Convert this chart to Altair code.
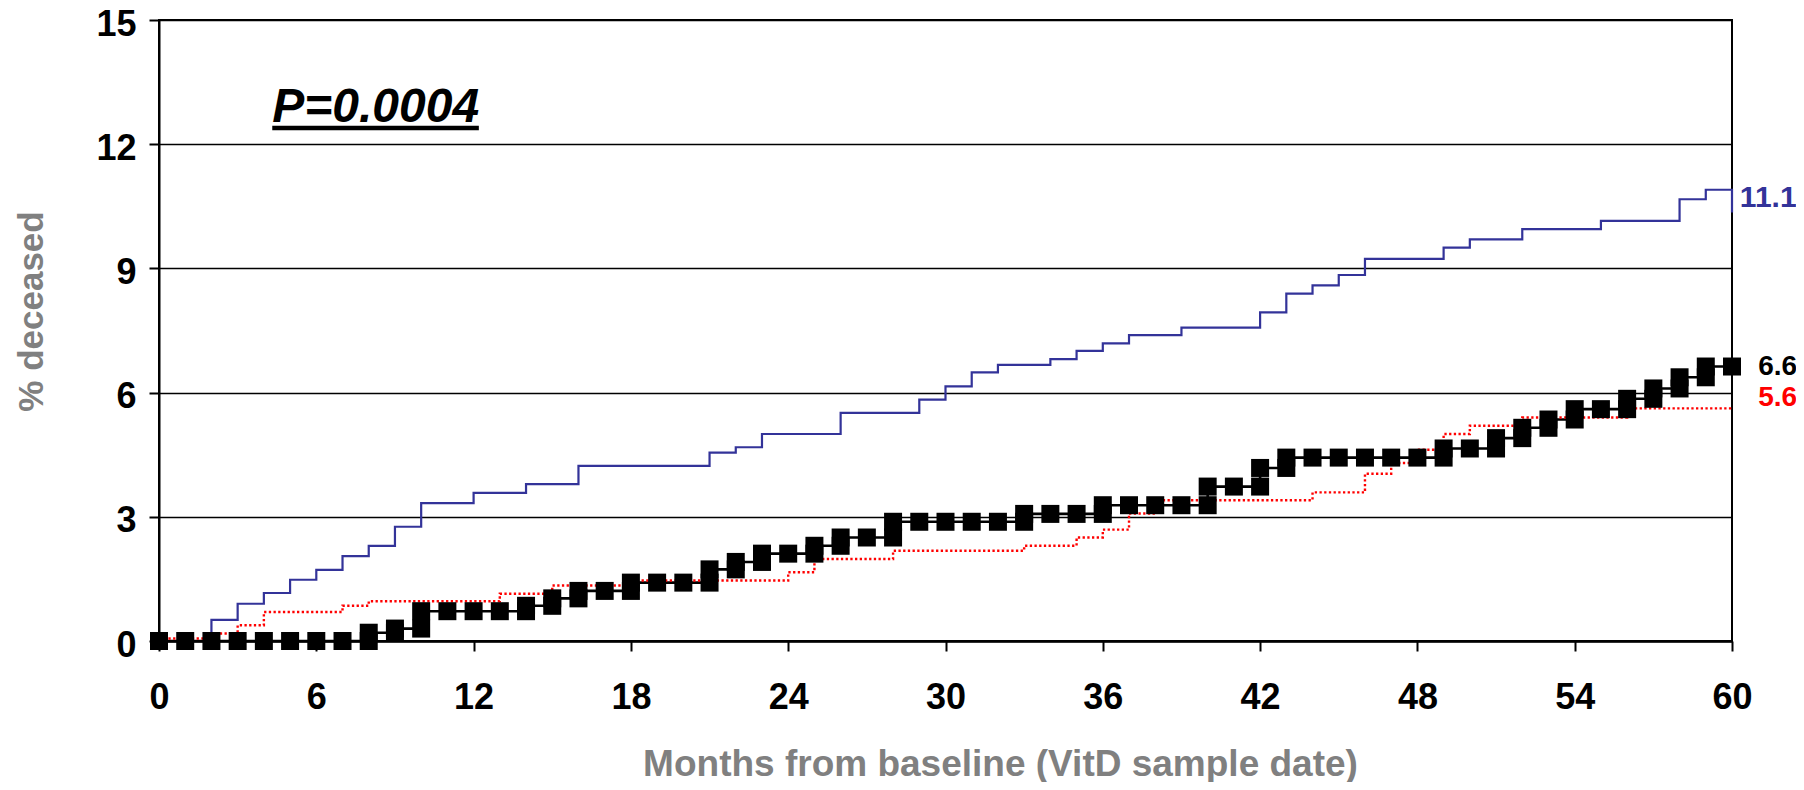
import altair as alt
import pandas as pd

FONT = "Liberation Sans"

# ---- data ----
blue_t = [0, 2, 3, 4, 5, 6, 7, 8, 9, 10, 12, 14, 16, 21, 22, 23, 26, 29, 30, 31, 32,
          34, 35, 36, 37, 39, 42, 43, 44, 45, 46, 49, 50, 52, 55, 58, 59, 60]
blue_v = [0, 0.51, 0.90, 1.16, 1.48, 1.72, 2.05, 2.30, 2.76, 3.33, 3.58, 3.79, 4.23,
          4.55, 4.68, 5.00, 5.51, 5.83, 6.15, 6.49, 6.67, 6.81, 7.01, 7.19, 7.39, 7.57,
          7.94, 8.39, 8.59, 8.84, 9.23, 9.50, 9.70, 9.95, 10.15, 10.67, 10.90, 10.35]

red_t = [0, 2, 3, 4, 7, 8, 13, 15, 18, 24, 25, 28, 33, 35, 36, 37, 38, 44, 46, 47,
         48, 49, 50, 52, 56, 60]
red_v = [0.06, 0.18, 0.38, 0.70, 0.85, 0.96, 1.14, 1.34, 1.46, 1.66, 1.98, 2.18, 2.30,
         2.50, 2.69, 3.08, 3.40, 3.59, 4.04, 4.30, 4.62, 5.00, 5.20, 5.40, 5.62, 5.62]

black_m = list(range(0, 61))
black_v = [0, 0, 0, 0, 0, 0, 0, 0, 0.20, 0.30,
           0.72, 0.72, 0.72, 0.72, 0.85, 1.03, 1.21, 1.21, 1.41, 1.41,
           1.41, 1.73, 1.91, 2.11, 2.11, 2.30, 2.50, 2.50, 2.88, 2.88,
           2.88, 2.88, 2.88, 3.07, 3.07, 3.07, 3.28, 3.28, 3.28, 3.28,
           3.73, 3.73, 4.18, 4.43, 4.43, 4.43, 4.43, 4.43, 4.43, 4.65,
           4.65, 4.90, 5.15, 5.35, 5.60, 5.60, 5.85, 6.10, 6.37, 6.63,
           6.63]

x_ticks = [0, 6, 12, 18, 24, 30, 36, 42, 48, 54, 60]
y_ticks = [0, 3, 6, 9, 12, 15]

end_labels = ["11.1", "6.6", "5.6"]
end_x = [60.3, 61.0, 61.0]
end_y = [10.69, 6.61, 5.88]
end_colors = ["#333399", "#000000", "#ff0000"]
end_sizes = [30, 28, 28]

p_text = ["P=0.0004"]
p_x = [4.32]
p_y = [12.54]
underline_x = [4.32]
underline_x2 = [12.2]
underline_y = [12.39]

x_title = "Months from baseline (VitD sample date)"
y_title = "% deceased"

# ---- tables ----
blue_df = pd.DataFrame({"month": blue_t, "pct": blue_v})
red_df = pd.DataFrame({"month": red_t, "pct": red_v})
black_df = pd.DataFrame({"month": black_m, "pct": black_v})
sq_rows = []
for i, m in enumerate(black_m):
    sq_rows.append({"month": m, "pct": black_v[i]})
    if i > 0 and black_v[i] != black_v[i - 1]:
        sq_rows.append({"month": m, "pct": black_v[i - 1]})
sq_df = pd.DataFrame(sq_rows)
end_df = pd.DataFrame({"month": end_x, "pct": end_y, "label": end_labels,
                       "color": end_colors, "fs": end_sizes})
p_df = pd.DataFrame({"month": p_x, "pct": p_y, "label": p_text})
ul_df = pd.DataFrame({"month": underline_x, "month2": underline_x2, "pct": underline_y})

x_axis = alt.Axis(values=x_ticks, title=x_title, grid=False, labelFlush=False,
                  labelFont=FONT, labelFontSize=36, labelFontWeight="bold",
                  labelColor="black", labelPadding=29,
                  tickColor="black", tickSize=10, tickWidth=2,
                  domainColor="black", domainWidth=2.5,
                  titleFont=FONT, titleFontSize=37, titleFontWeight="bold",
                  titleColor="#808080", titleX=841, titleY=134,
                  titleAlign="center", titleBaseline="alphabetic")
y_axis = alt.Axis(values=y_ticks, title=y_title, grid=True, gridColor="black",
                  gridWidth=1.7, labelFlush=False,
                  labelFont=FONT, labelFontSize=36, labelFontWeight="bold",
                  labelColor="black", labelPadding=13, labelOffset=4,
                  tickColor="black", tickSize=10, tickWidth=2,
                  domainColor="black", domainWidth=2,
                  titleFont=FONT, titleFontSize=35, titleFontWeight="bold",
                  titleColor="#808080", titleAngle=270, titleX=-117, titleY=291,
                  titleAlign="center", titleBaseline="alphabetic")

X = alt.X("month:Q", scale=alt.Scale(domain=[0, 60], nice=False, zero=False), axis=x_axis)
Y = alt.Y("pct:Q", scale=alt.Scale(domain=[0, 15], nice=False), axis=y_axis)

blue = alt.Chart(blue_df).mark_line(interpolate="step-after", color="#333399",
                                    strokeWidth=2.2).encode(x=X, y=Y)
black_line = alt.Chart(black_df).mark_line(interpolate="step-after", color="black",
                                           strokeWidth=2.6).encode(x=X, y=Y)
red = alt.Chart(red_df).mark_line(interpolate="step-after", color="#ff0000",
                                  strokeWidth=2.4, strokeDash=[2.3, 2.4]).encode(x=X, y=Y)
squares = alt.Chart(sq_df).mark_point(shape="square", filled=True, color="black",
                                      size=324, opacity=1).encode(x=X, y=Y)
p_label = alt.Chart(p_df).mark_text(font=FONT, fontSize=48, fontWeight="bold",
                                    fontStyle="italic", align="left",
                                    baseline="alphabetic", color="black").encode(
    x=X, y=Y, text="label:N")
underline = alt.Chart(ul_df).mark_rule(color="black", strokeWidth=4.5).encode(
    x=X, x2="month2:Q", y=Y)
end_text = alt.Chart(end_df).mark_text(font=FONT, fontWeight="bold", align="left",
                                       baseline="middle").encode(
    x=X, y=Y, text="label:N",
    color=alt.Color("color:N", scale=None),
    size=alt.Size("fs:Q", scale=None))

chart = alt.layer(blue, black_line, red, squares, p_label, underline, end_text).properties(
    width=1573, height=621,
    padding={"left": 151, "top": 12, "right": 64, "bottom": 141},
    autosize=alt.AutoSizeParams(type="none"),
    background="white",
).configure_view(stroke="black", strokeWidth=2)

chart.save("out.html", embed_options={"renderer": "svg", "actions": False})
